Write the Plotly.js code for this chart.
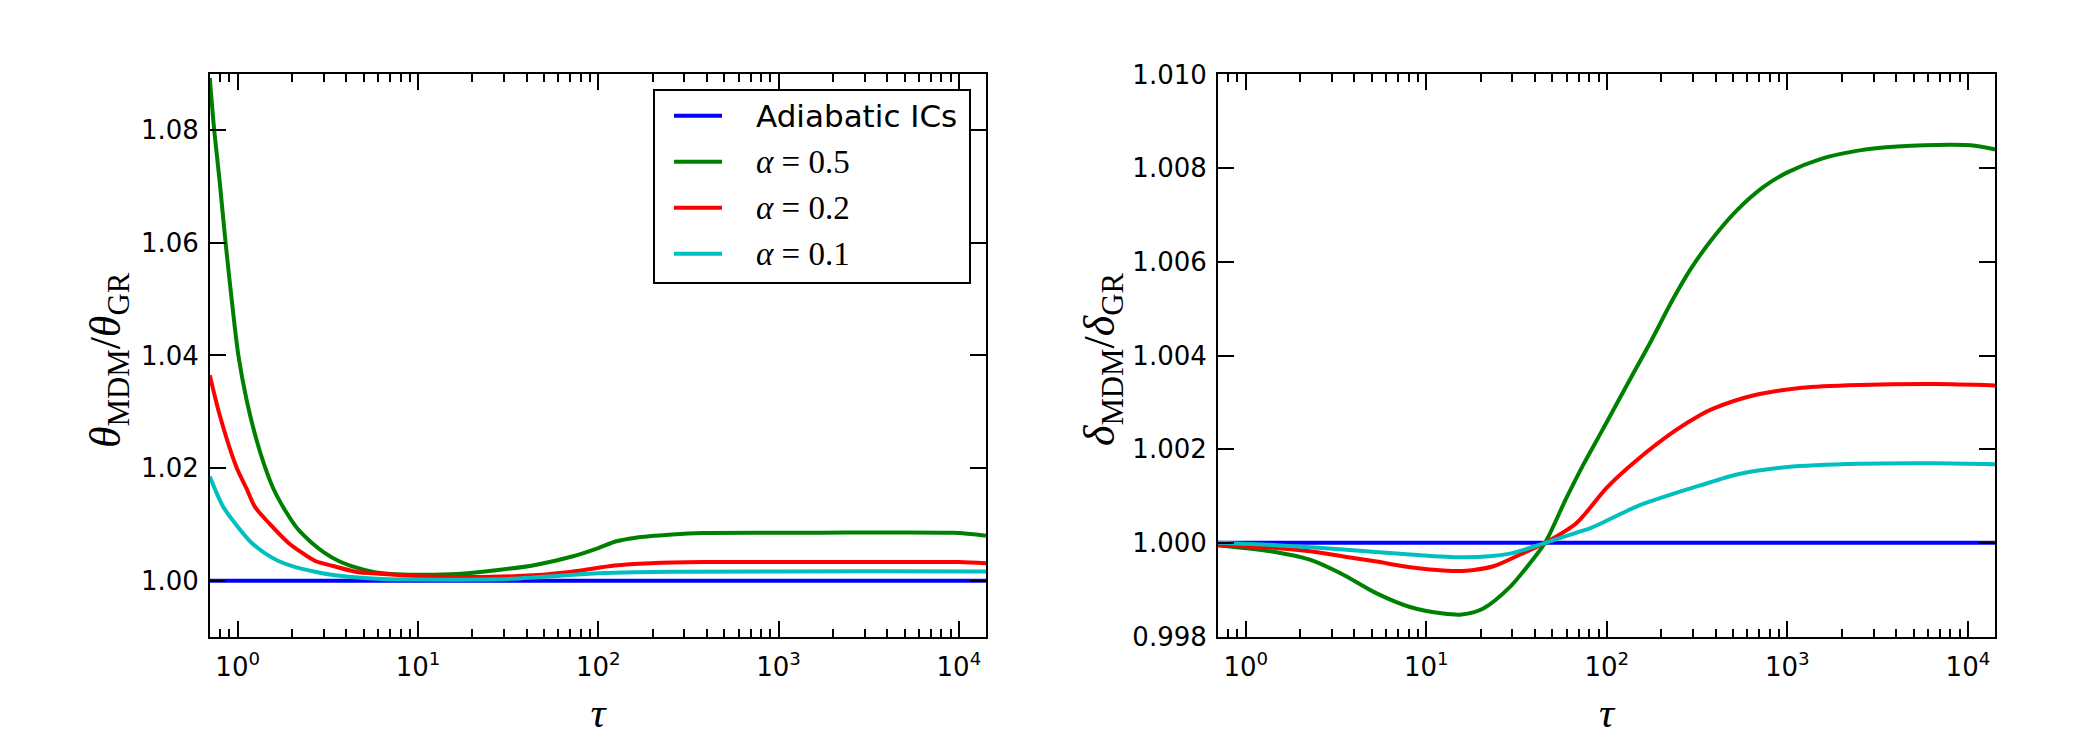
<!DOCTYPE html>
<html><head><meta charset="utf-8">
<script src="https://cdn.plot.ly/plotly-3.0.1.min.js"></script>
<style>body{margin:0;background:#fff}</style>
</head><body><div id="chart" style="width:2100px;height:750px"></div>
<script>
// ---------- Left panel: theta_MDM / theta_GR ----------
const tauThetaAdiabatic = [0.70, 14130];
const thetaAdiabatic = [1.0, 1.0];

const tauTheta05 = [0.70, 0.741, 0.794, 0.857, 0.933, 1.009, 1.122, 1.259, 1.413, 1.585, 1.832, 2.138, 2.582, 3.02, 3.631, 4.467, 5.572, 7.08, 10, 16.5, 26.3, 44.7, 71.6, 100, 126, 158, 257, 380, 1445, 9330, 14130];
const theta05 = [1.0893, 1.080, 1.071, 1.060, 1.049, 1.040, 1.032, 1.0255, 1.0203, 1.0162, 1.0125, 1.0093, 1.0067, 1.0050, 1.0035, 1.0024, 1.0016, 1.0012, 1.00107, 1.0012, 1.0018, 1.0028, 1.0043, 1.0058, 1.0070, 1.0076, 1.0082, 1.00846, 1.0085, 1.0085, 1.0080];

const tauTheta02 = [0.70, 0.798, 0.986, 1.122, 1.247, 1.514, 1.914, 2.239, 2.692, 3.39, 4.498, 6.31, 10, 26.3, 51.3, 75.9, 123, 195, 380, 3162, 10000, 14130];
const theta02 = [1.0365, 1.0292, 1.0201, 1.0163, 1.0131, 1.0100, 1.0067, 1.0051, 1.0035, 1.0026, 1.0016, 1.0012, 1.0008, 1.0007, 1.0011, 1.0017, 1.0027, 1.0031, 1.0033, 1.0033, 1.0033, 1.0031];

const tauTheta01 = [0.70, 0.832, 1.0, 1.197, 1.413, 1.683, 2.089, 2.692, 3.39, 4.467, 6.31, 10, 31.6, 63.1, 100, 158, 316, 3162, 14130];
const theta01 = [1.0185, 1.0131, 1.0096, 1.0067, 1.0049, 1.0035, 1.0024, 1.0016, 1.0010, 1.0006, 1.0003, 1.0002, 1.0003, 1.0009, 1.0013, 1.0015, 1.0016, 1.00166, 1.00165];

// ---------- Right panel: delta_MDM / delta_GR ----------
const tauDeltaAdiabatic = [0.70, 14130];
const deltaAdiabatic = [1.0, 1.0];

const tauDelta05 = [0.70, 1.479, 2.265, 3.467, 5.309, 8.128, 12.42, 15.70, 20.70, 29.11, 37.58, 45.50, 59.57, 73.62, 91.20, 100, 139.3, 172.6, 232.3, 291.7, 390.8, 524.8, 738.0, 1000, 1538, 2512, 4074, 8128, 10965, 14130];
const delta05 = [0.99995, 0.9998, 0.99964, 0.99932, 0.99892, 0.99863, 0.99849, 0.99847, 0.9986, 0.99906, 0.99957, 1.0000, 1.00095, 1.00165, 1.0023, 1.00258, 1.0036, 1.00425, 1.0052, 1.00585, 1.00653, 1.0071, 1.0076, 1.00791, 1.0082, 1.00838, 1.00846, 1.0085, 1.00848, 1.0084];

const tauDelta02 = [0.70, 1.479, 2.265, 3.467, 5.309, 8.128, 12.42, 16.03, 23.55, 33.11, 45.50, 68.2, 100, 147, 240, 326, 391, 638, 1202, 2512, 6607, 14130];
const delta02 = [0.99995, 0.99989, 0.99982, 0.99971, 0.9996, 0.99948, 0.99941, 0.9994, 0.9995, 0.99975, 1.0000, 1.00043, 1.00118, 1.00177, 1.0024, 1.00272, 1.00287, 1.00314, 1.00331, 1.00337, 1.00339, 1.00336];

const tauDelta01 = [0.70, 1.479, 3.467, 8.128, 16.03, 29.11, 45.50, 68.2, 81.9, 129, 147, 278, 326, 525, 1000, 2512, 6607, 14130];
const delta01 = [1.0, 0.99995, 0.99986, 0.99975, 0.99969, 0.99977, 1.0000, 1.00022, 1.00032, 1.00068, 1.00078, 1.00114, 1.00122, 1.00146, 1.00162, 1.00169, 1.0017, 1.00168];

// ---------- Ticks ----------
const xMajorVals = [1, 10, 100, 1000, 10000];
const xMajorText = ['10<sup>0</sup>', '10<sup>1</sup>', '10<sup>2</sup>', '10<sup>3</sup>', '10<sup>4</sup>'];
const xMinorVals = [0.8, 0.9, 2, 3, 4, 5, 6, 7, 8, 9, 20, 30, 40, 50, 60, 70, 80, 90,
  200, 300, 400, 500, 600, 700, 800, 900, 2000, 3000, 4000, 5000, 6000, 7000, 8000, 9000];
const yThetaVals = [1.00, 1.02, 1.04, 1.06, 1.08];
const yThetaText = ['1.00', '1.02', '1.04', '1.06', '1.08'];
const yDeltaVals = [0.998, 1.000, 1.002, 1.004, 1.006, 1.008, 1.010];
const yDeltaText = ['0.998', '1.000', '1.002', '1.004', '1.006', '1.008', '1.010'];

const seriesNames = ['Adiabatic ICs', '<i>α</i> = 0.5', '<i>α</i> = 0.2', '<i>α</i> = 0.1'];
const seriesColors = ['#0000ff', '#008000', '#ff0000', '#00bfbf'];

const LW = 4;
function tr(x, y, i, xa, ya) {
  return {x: x, y: y, type: 'scatter', mode: 'lines', name: seriesNames[i],
    xaxis: xa, yaxis: ya, showlegend: false,
    line: {color: seriesColors[i], width: LW, shape: 'spline', smoothing: 0.8}};
}

const data = [
  tr(tauThetaAdiabatic, thetaAdiabatic, 0, 'x', 'y'),
  tr(tauTheta05, theta05, 1, 'x', 'y'),
  tr(tauTheta02, theta02, 2, 'x', 'y'),
  tr(tauTheta01, theta01, 3, 'x', 'y'),
  tr(tauDeltaAdiabatic, deltaAdiabatic, 0, 'x2', 'y2'),
  tr(tauDelta05, delta05, 1, 'x2', 'y2'),
  tr(tauDelta02, delta02, 2, 'x2', 'y2'),
  tr(tauDelta01, delta01, 3, 'x2', 'y2')
];

const tickFont = {family: 'DejaVu Sans', size: 26, color: '#000'};
function xAxis(domain, anchor) {
  return {type: 'log', domain: domain, anchor: anchor, range: [-0.1536, 4.150],
    showline: true, linecolor: '#000', linewidth: 2, mirror: 'allticks',
    ticks: 'inside', ticklen: 16, tickwidth: 2, tickcolor: '#000',
    tickmode: 'array', tickvals: xMajorVals, ticktext: xMajorText,
    minor: {tickmode: 'array', tickvals: xMinorVals, ticks: 'inside', ticklen: 8, tickwidth: 2, tickcolor: '#000', showgrid: false},
    showgrid: false, zeroline: false, tickfont: tickFont, ticklabelstandoff: 6,
    title: {text: '<i>τ</i>', font: {family: 'Liberation Serif', size: 42, color: '#000'}, standoff: 16}};
}
function yAxis(domain, anchor, range, vals, text) {
  return {domain: domain, anchor: anchor, range: range,
    showline: true, linecolor: '#000', linewidth: 2, mirror: 'allticks',
    ticks: 'inside', ticklen: 16, tickwidth: 2, tickcolor: '#000',
    tickmode: 'array', tickvals: vals, ticktext: text,
    showgrid: false, zeroline: false, tickfont: tickFont, ticklabelstandoff: 4};
}

// legend (drawn in the matplotlib style: frame, 48px samples, text)
const W = 2100, H = 750;
const legRowsPx = [115.7, 161.7, 207.7, 253.7];
const shapes = [{type: 'rect', xref: 'paper', yref: 'paper', x0: 654 / W, x1: 970 / W, y0: 1 - 283 / H, y1: 1 - 90 / H,
  line: {color: '#000', width: 2}, fillcolor: '#fff', layer: 'above'}];
const annotations = [
  {xref: 'paper', yref: 'paper', x: 108 / W, y: 1 - 360 / H, textangle: -90, showarrow: false,
   xanchor: 'center', yanchor: 'middle',
   text: '<i>θ</i><sub>MDM</sub>/<i>θ</i><sub>GR</sub>', font: {family: 'Liberation Serif', size: 44, color: '#000'}},
  {xref: 'paper', yref: 'paper', x: 1102 / W, y: 1 - 360 / H, textangle: -90, showarrow: false,
   xanchor: 'center', yanchor: 'middle',
   text: '<i>δ</i><sub>MDM</sub>/<i>δ</i><sub>GR</sub>', font: {family: 'Liberation Serif', size: 44, color: '#000'}}
];
seriesNames.forEach(function (nm, i) {
  const yy = 1 - legRowsPx[i] / H;
  shapes.push({type: 'line', xref: 'paper', yref: 'paper', x0: 674 / W, x1: 722 / W, y0: yy, y1: yy,
    line: {color: seriesColors[i], width: LW}, layer: 'above'});
  annotations.push({xref: 'paper', yref: 'paper', x: 754 / W, y: yy, xanchor: 'left', yanchor: 'middle',
    showarrow: false, text: nm,
    font: i === 0 ? {family: 'DejaVu Sans', size: 31, color: '#000'} : {family: 'Liberation Serif', size: 33, color: '#000'}});
});

const yDom = [0.1507, 0.9013];
const layout = {
  width: W, height: H, margin: {l: 0, r: 0, t: 0, b: 0},
  paper_bgcolor: '#fff', plot_bgcolor: '#fff',
  xaxis: xAxis([0.1, 0.4695], 'y'),
  yaxis: yAxis(yDom, 'x', [0.99, 1.09], yThetaVals, yThetaText),
  xaxis2: xAxis([0.58, 0.95], 'y2'),
  yaxis2: yAxis(yDom, 'x2', [0.99799, 1.01001], yDeltaVals, yDeltaText),
  showlegend: false,
  shapes: shapes,
  annotations: annotations
};

Plotly.newPlot('chart', data, layout, {staticPlot: true});
</script></body></html>
